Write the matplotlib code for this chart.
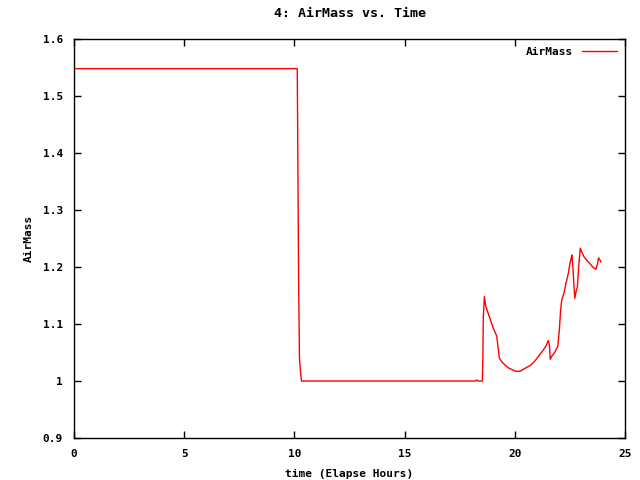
import matplotlib
matplotlib.use("Agg")
import matplotlib.pyplot as plt

# elapsed time (hours) and airmass
hours = [0.0, 10.13, 10.15, 10.19, 10.23, 10.28, 10.32, 18.22, 18.27, 18.32, 18.53,
         18.55, 18.57, 18.62, 18.69, 18.87, 19.03, 19.18, 19.22, 19.30, 19.40,
         19.56, 19.71, 19.93, 20.05, 20.24, 20.39, 20.54, 20.69, 20.84, 20.99,
         21.14, 21.29, 21.42, 21.52, 21.57, 21.61, 21.67, 21.82, 21.95, 22.02,
         22.08, 22.13, 22.23, 22.32, 22.43, 22.50, 22.55, 22.59, 22.63, 22.69,
         22.72, 22.78, 22.84, 22.91, 22.97, 23.03, 23.14, 23.26, 23.41, 23.56,
         23.68, 23.74, 23.80, 23.87, 23.90]
airmass = [1.548, 1.548, 1.43, 1.18, 1.04, 1.015, 1.0, 1.0, 1.002, 1.0, 1.0,
           1.037, 1.11, 1.148, 1.130, 1.110, 1.092, 1.079, 1.066, 1.040, 1.034,
           1.028, 1.023, 1.019, 1.017, 1.017, 1.0205, 1.024, 1.027, 1.032, 1.039,
           1.047, 1.054, 1.062, 1.071, 1.063, 1.038, 1.043, 1.051, 1.061, 1.089,
           1.125, 1.142, 1.154, 1.171, 1.189, 1.206, 1.214, 1.221, 1.2035, 1.163,
           1.145, 1.157, 1.1655, 1.206, 1.233, 1.227, 1.218, 1.212, 1.206, 1.199,
           1.196, 1.2035, 1.216, 1.212, 1.209]

x_ticks = [0, 5, 10, 15, 20, 25]
y_ticks = [0.9, 1.0, 1.1, 1.2, 1.3, 1.4, 1.5, 1.6]
y_labels = ["0.9", "1", "1.1", "1.2", "1.3", "1.4", "1.5", "1.6"]

plt.rcParams["font.family"] = ["DejaVu Sans Mono"]
plt.rcParams["font.size"] = 8
plt.rcParams["font.weight"] = "bold"

fig = plt.figure(figsize=(6.4, 4.8), dpi=100)
ax = fig.add_axes([74 / 640, 1 - 438 / 480, 551 / 640, 399 / 480])

ax.plot(hours, airmass, color="red", linewidth=1.0, label="AirMass")

ax.set_xlim(0, 25)
ax.set_ylim(0.9, 1.6)
ax.set_xticks(x_ticks)
ax.set_xticklabels([str(t) for t in x_ticks])
ax.set_yticks(y_ticks)
ax.set_yticklabels(y_labels)
ax.tick_params(direction="in", top=True, right=True, length=5, width=1, pad=8)
for s in ax.spines.values():
    s.set_linewidth(1)

ax.set_title("4: AirMass vs. Time", pad=16, fontweight="bold")
ax.set_xlabel("time (Elapse Hours)", labelpad=7, fontweight="bold")
ax.set_ylabel("AirMass", labelpad=6, fontweight="bold")

ax.legend(loc="upper right", frameon=False, markerfirst=False,
          handlelength=3.2, borderaxespad=0.3)

fig.savefig("out.png", dpi=100)
